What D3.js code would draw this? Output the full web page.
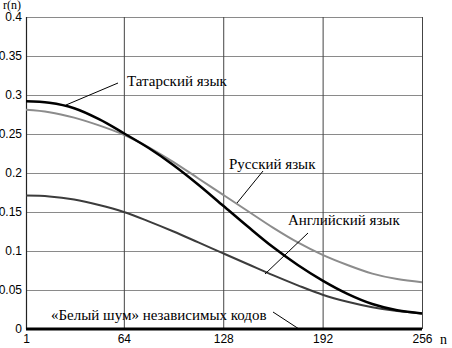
<!DOCTYPE html>
<html>
<head>
<meta charset="utf-8">
<script src="https://cdn.jsdelivr.net/npm/d3@7"></script>
<style>
  body { margin: 0; background: #fff; }
  .tick text { font-family: "Liberation Sans", Arial, sans-serif; font-size: 12px; fill: #000; }
</style>
</head>
<body>
<script>
// Dimensions
var w = 452;
var h = 348;
var serif = "'Liberation Serif', 'DejaVu Serif', 'Times New Roman', serif";

// Data: n values and r(n) for each language
var nValues = [1, 16, 32, 48, 64, 80, 96, 112, 128, 144, 160, 176, 192, 208, 224, 240, 256];
var tatar   = [0.292, 0.290, 0.283, 0.269, 0.251, 0.232, 0.210, 0.185, 0.158, 0.131, 0.105, 0.082, 0.062, 0.045, 0.032, 0.024, 0.020];
var russian = [0.281, 0.278, 0.271, 0.261, 0.249, 0.233, 0.214, 0.193, 0.172, 0.151, 0.130, 0.111, 0.095, 0.082, 0.071, 0.064, 0.060];
var english = [0.171, 0.170, 0.166, 0.159, 0.150, 0.138, 0.125, 0.111, 0.097, 0.083, 0.069, 0.056, 0.044, 0.035, 0.028, 0.023, 0.020];
var noise   = [0, 0, 0, 0, 0, 0, 0, 0, 0, 0, 0, 0, 0, 0, 0, 0, 0];

// Tick values
var xTicks = [1, 64, 128, 192, 256];
var yTicks = [0, 0.05, 0.1, 0.15, 0.2, 0.25, 0.3, 0.35, 0.4];

// Scales
var xScale = d3.scaleLinear().domain([1, 256]).range([26, 422]);
var yScale = d3.scaleLinear().domain([0, 0.4]).range([329, 17]);

var svg = d3.select("body")
    .append("svg")
    .attr("width", w)
    .attr("height", h);

// Horizontal grid lines
svg.selectAll(".hgrid")
    .data(yTicks.slice(1))
    .enter()
    .append("line")
    .attr("class", "hgrid")
    .attr("x1", xScale(1))
    .attr("x2", xScale(256))
    .attr("y1", function(d) { return yScale(d) + 0.5; })
    .attr("y2", function(d) { return yScale(d) + 0.5; })
    .attr("stroke", "#8a8a8a")
    .attr("stroke-width", 1.2);

// Vertical grid lines
svg.selectAll(".vgrid")
    .data(xTicks.slice(1))
    .enter()
    .append("line")
    .attr("class", "vgrid")
    .attr("x1", function(d) { return xScale(d) + 0.5; })
    .attr("x2", function(d) { return xScale(d) + 0.5; })
    .attr("y1", yScale(0.4))
    .attr("y2", yScale(0))
    .attr("stroke", "#444")
    .attr("stroke-width", 1);

// Axes
var xAxis = d3.axisBottom(xScale).tickValues(xTicks).tickSize(0).tickPadding(5);
svg.append("g")
    .attr("transform", "translate(0," + yScale(0) + ")")
    .call(xAxis)
    .call(function(g) { g.select(".domain").remove(); });

var yAxis = d3.axisLeft(yScale).tickValues(yTicks).tickSize(0).tickPadding(4)
    .tickFormat(function(d) { return String(+d.toFixed(2)); });
svg.append("g")
    .attr("transform", "translate(" + xScale(1) + ",0)")
    .call(yAxis)
    .call(function(g) { g.select(".domain").remove(); });

// Left axis line
svg.append("line")
    .attr("x1", xScale(1) + 0.5).attr("x2", xScale(1) + 0.5)
    .attr("y1", yScale(0.4)).attr("y2", yScale(0))
    .attr("stroke", "#222").attr("stroke-width", 1.2);

// Curves
var line = d3.line()
    .x(function(d, i) { return xScale(nValues[i]); })
    .y(function(d) { return yScale(d); })
    .curve(d3.curveCatmullRom.alpha(0.5));

var series = [
    { values: russian, color: "#8c8c8c", width: 2 },
    { values: english, color: "#3c3c3c", width: 2 },
    { values: tatar,   color: "#000",    width: 2.5 },
    { values: noise,   color: "#000",    width: 3 }
];
svg.selectAll(".curve")
    .data(series)
    .enter()
    .append("path")
    .attr("class", "curve")
    .attr("d", function(d) { return line(d.values); })
    .attr("fill", "none")
    .attr("stroke", function(d) { return d.color; })
    .attr("stroke-width", function(d) { return d.width; });

// Labels with leader lines
var labels = [
    { text: "Татарский язык", x: 127, y: 86, lx1: 118, ly1: 83, lx2: 66, ly2: 105 },
    { text: "Русский язык", x: 229, y: 169, lx1: 263, ly1: 171, lx2: 237, ly2: 203 },
    { text: "Английский язык", x: 288, y: 225, lx1: 308, ly1: 233, lx2: 265, ly2: 274 },
    { text: "«Белый шум» независимых кодов", x: 51, y: 320, lx1: 273, ly1: 312, lx2: 299, ly2: 329 }
];
svg.selectAll(".leader")
    .data(labels)
    .enter()
    .append("line")
    .attr("class", "leader")
    .attr("x1", function(d) { return d.lx1; })
    .attr("y1", function(d) { return d.ly1; })
    .attr("x2", function(d) { return d.lx2; })
    .attr("y2", function(d) { return d.ly2; })
    .attr("stroke", "#000")
    .attr("stroke-width", 1);

svg.selectAll(".lbl")
    .data(labels)
    .enter()
    .append("text")
    .attr("class", "lbl")
    .attr("x", function(d) { return d.x; })
    .attr("y", function(d) { return d.y; })
    .attr("font-family", serif)
    .attr("font-size", "15px")
    .attr("fill", "#000")
    .text(function(d) { return d.text; });

// Axis titles
svg.append("text")
    .attr("x", 3)
    .attr("y", 9)
    .attr("font-family", serif)
    .attr("font-size", "12px")
    .text("r(n)");

svg.append("text")
    .attr("x", 440)
    .attr("y", 344)
    .attr("font-family", serif)
    .attr("font-size", "14px")
    .text("n");
</script>
</body>
</html>
